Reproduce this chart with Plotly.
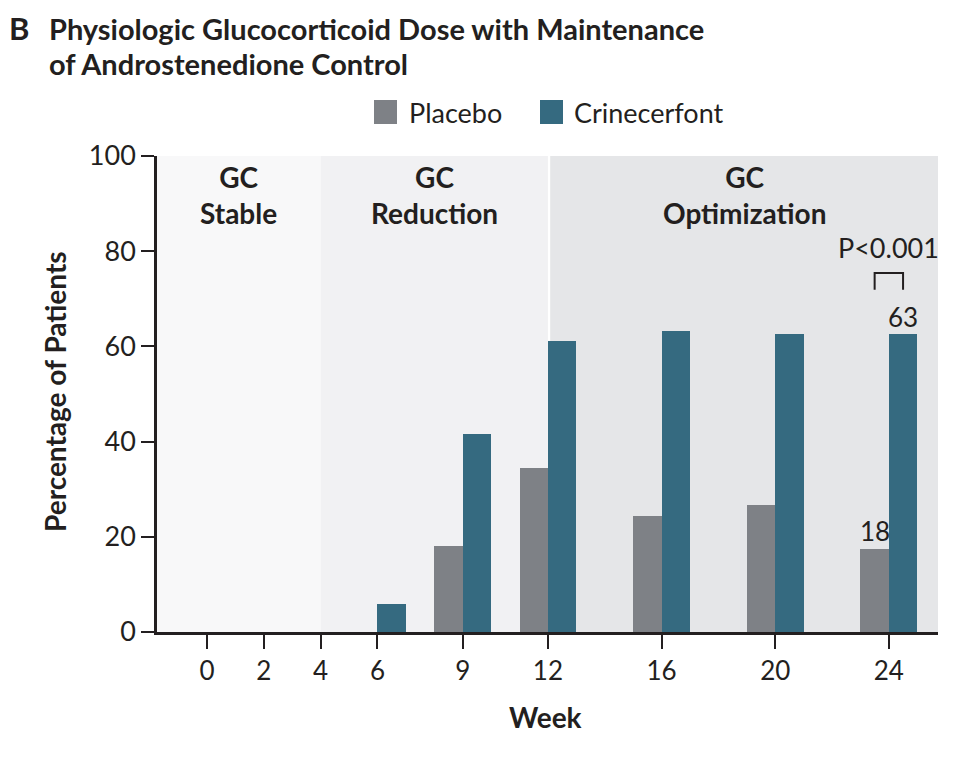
import plotly.graph_objects as go

# ---- data ----
weeks = [0, 2, 4, 6, 9, 12, 16, 20, 24]
tick_labels = ["0", "2", "4", "6", "9", "12", "16", "20", "24"]
placebo = [0, 0, 0, 0, 18.0, 34.4, 24.4, 26.6, 17.5]
crinecerfont = [0, 0, 0, 5.9, 41.5, 61.1, 63.3, 62.6, 62.6]
series_names = ["Placebo", "Crinecerfont"]
phases = [("GC<br>Stable", -1.76, 4.0), ("GC<br>Reduction", 4.0, 12.0), ("GC<br>Optimization", 12.08, 25.73)]
label_placebo_24 = "18"
label_crine_24 = "63"

GRAY = "#7e8186"
TEAL = "#356a80"
INK = "#231f20"
FONT = "Lato"
phase_colors = ["#f8f8f9", "#f1f1f3", "#e5e6e8"]

fig = go.Figure()
fig.add_trace(go.Bar(x=weeks, y=placebo, name=series_names[0], width=1, offset=-1,
                     marker=dict(color=GRAY, line=dict(width=0)), showlegend=False))
fig.add_trace(go.Bar(x=weeks, y=crinecerfont, name=series_names[1], width=1, offset=0,
                     marker=dict(color=TEAL, line=dict(width=0)), showlegend=False))

# page pixel -> paper coordinate helpers (plot area 157..938 x 156..632 on page)
W, L = 781, 157
def px(xp):
    return (xp - L) / W
def py(yp):
    return (632 - yp) / 476

shapes = []
annotations = []
for (lab, x0, x1), col in zip(phases, phase_colors):
    shapes.append(dict(type="rect", xref="x", yref="y", x0=x0, x1=x1, y0=0, y1=100,
                       fillcolor=col, line=dict(width=0), layer="below"))
    annotations.append(dict(text="<b>" + lab + "</b>", x=(x0 + x1) / 2, xref="x", y=py(158), yref="paper",
                            xanchor="center", yanchor="top", showarrow=False,
                            font=dict(family=FONT, size=28, color=INK)))

# significance bracket
shapes.append(dict(type="path", xref="x", yref="y", path="M 23.5 71.9 L 23.5 75.4 L 24.5 75.4 L 24.5 71.9",
                   line=dict(color=INK, width=2)))
annotations += [
    dict(text="P<0.001", x=24.0, y=80.7, xref="x", yref="y", showarrow=False,
         font=dict(family=FONT, size=27, color=INK)),
    dict(text=label_crine_24, x=24.5, y=66.2, xref="x", yref="y", showarrow=False,
         font=dict(family=FONT, size=26, color=INK)),
    dict(text=label_placebo_24, x=23.5, y=21.3, xref="x", yref="y", showarrow=False,
         font=dict(family=FONT, size=26, color=INK)),
]

# legend (manual)
for name, col, sx, tx in [(series_names[0], GRAY, 374, 407), (series_names[1], TEAL, 540, 572)]:
    shapes.append(dict(type="rect", xref="paper", yref="paper", x0=px(sx), x1=px(sx + 23),
                       y0=py(124), y1=py(100), fillcolor=col, line=dict(width=0)))
    annotations.append(dict(text=name, x=px(tx), y=py(112), xref="paper", yref="paper",
                            xanchor="left", yanchor="middle", showarrow=False,
                            font=dict(family=FONT, size=27, color=INK)))

# titles
annotations += [
    dict(text="<b>B</b>", x=px(7), y=py(28), xref="paper", yref="paper", xanchor="left", yanchor="middle",
         showarrow=False, font=dict(family=FONT, size=31, color=INK)),
    dict(text="<b>Physiologic Glucocorticoid Dose with Maintenance</b>",
         x=px(47), y=py(28), xref="paper", yref="paper", xanchor="left", yanchor="middle",
         showarrow=False, font=dict(family=FONT, size=29, color=INK)),
    dict(text="<b>of Androstenedione Control</b>",
         x=px(47), y=py(63), xref="paper", yref="paper", xanchor="left", yanchor="middle",
         showarrow=False, font=dict(family=FONT, size=29, color=INK)),
    dict(text="<b>Percentage of Patients</b>", x=px(55), y=py(392), xref="paper", yref="paper",
         textangle=-90, xanchor="center", yanchor="middle", showarrow=False,
         font=dict(family=FONT, size=28, color=INK)),
    dict(text="<b>Week</b>", x=px(545), y=py(717), xref="paper", yref="paper",
         xanchor="center", yanchor="middle", showarrow=False,
         font=dict(family=FONT, size=28, color=INK)),
]

fig.update_layout(
    width=958, height=751,
    margin=dict(l=149, r=28, t=148, b=127),
    paper_bgcolor="white", plot_bgcolor="white",
    barmode="overlay", bargap=0,
    shapes=shapes, annotations=annotations,
    font=dict(family=FONT, color=INK),
)
fig.update_xaxes(range=[-1.76, 25.73], tickvals=weeks, ticktext=tick_labels,
                 ticks="outside", ticklen=14, tickwidth=2, tickcolor=INK,
                 showline=True, linecolor=INK, linewidth=2.5, showgrid=False, zeroline=False,
                 tickfont=dict(family=FONT, size=26, color=INK), fixedrange=True)
fig.update_yaxes(range=[0, 100], tickvals=[0, 20, 40, 60, 80, 100],
                 ticks="outside", ticklen=13, tickwidth=2, tickcolor=INK,
                 showline=True, linecolor=INK, linewidth=2.5, showgrid=False, zeroline=False,
                 tickfont=dict(family=FONT, size=27, color=INK), fixedrange=True)

fig.write_html("out.html")
